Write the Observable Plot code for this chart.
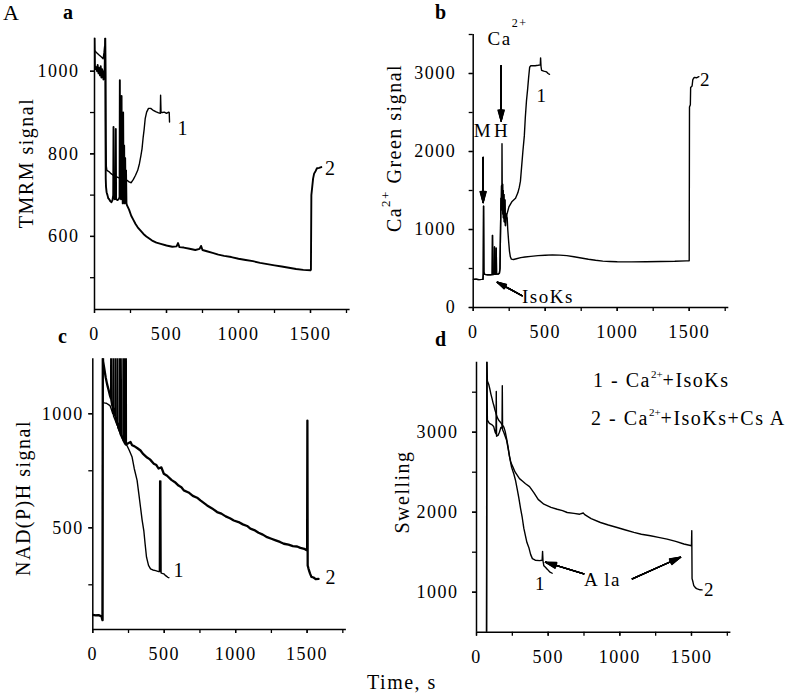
<!DOCTYPE html>
<html><head><meta charset="utf-8">
<script src="https://cdn.jsdelivr.net/npm/d3@7"></script>
<script src="https://cdn.jsdelivr.net/npm/@observablehq/plot@0.6"></script>
<style>
html,body{margin:0;padding:0;background:#fff;}
#wrap{position:relative;width:800px;height:699px;overflow:hidden;font-family:"Liberation Serif",serif;}
#wrap svg{position:absolute;}
</style></head><body><div id="wrap"></div>
<script>
// ---------- DATA (time s, signal) ----------
const xTicksAll = [0,250,500,750,1000,1250,1500,1750];
const xTicksLabeled = [0,500,1000,1500];

// Panel a: TMRM signal
const tmrm1 = [[0,1050],[15,1045],[30,1040],[50,1034],[60,1030],[66,1045],[70,1060],[74,1040],[76,1080],[78,1000],[80,828],[82,770],[86,760],[100,757],[115,752],[130,748],[150,745],[170,742],[185,745],[188,900],[191,745],[200,740],[210,738],[225,736],[240,732],[255,730],[270,738],[285,748],[300,760],[312,776],[322,795],[330,812],[338,840],[345,860],[352,885],[362,901],[375,910],[390,910],[405,906],[425,902],[445,899],[457,898],[459,942],[462,900],[470,900],[485,901],[500,898],[515,901],[519,900],[521,877]];
const tmrm2 = [[0,1080],[3,1012],[7,1005],[12,1010],[18,1000],[22,1015],[28,995],[32,1008],[38,990],[43,1012],[48,985],[53,1005],[58,995],[62,980],[66,1000],[70,995],[74,1080],[76,880],[78,740],[80,720],[84,707],[90,700],[96,692],[102,690],[110,685],[118,683],[125,688],[130,700],[132,865],[134,695],[140,690],[146,700],[148,860],[150,690],[160,688],[168,690],[174,695],[176,978],[178,700],[182,860],[184,690],[188,940],[190,700],[193,850],[196,680],[199,900],[202,690],[206,820],[209,680],[213,790],[216,690],[219,760],[222,680],[226,675],[240,665],[255,650],[270,640],[285,630],[300,622],[320,614],[340,606],[360,600],[380,595],[400,590],[430,585],[460,582],[500,578],[540,575],[570,576],[580,584],[590,574],[620,573],[660,570],[700,567],[730,570],[740,577],[750,567],[780,564],[820,560],[860,556],[900,553],[950,550],[1000,546],[1050,543],[1100,540],[1150,536],[1200,533],[1250,530],[1300,527],[1350,524],[1400,521],[1450,519],[1500,518],[1503,520],[1506,700],[1512,720],[1518,740],[1525,752],[1535,758],[1545,765],[1560,766],[1575,768]];

// Panel b: Ca2+ Green signal
const caGreen1 = [[0,360],[20,362],[40,358],[60,360],[68,362],[70,440],[72,1300],[74,450],[80,425],[100,420],[120,420],[132,422],[134,925],[136,422],[146,425],[148,775],[150,425],[158,425],[160,760],[162,428],[175,430],[182,440],[186,500],[190,1020],[193,1400],[195,1250],[197,1560],[199,1300],[200,2100],[202,1350],[204,1580],[206,1200],[208,1500],[210,1150],[213,1450],[216,1100],[220,1380],[224,1050],[228,1200],[232,1180],[248,1290],[270,1360],[294,1400],[310,1470],[320,1540],[328,1620],[336,1800],[345,2000],[355,2200],[362,2440],[370,2650],[378,2800],[385,2950],[392,3080],[400,3100],[430,3100],[450,3105],[466,3110],[468,3200],[471,3090],[475,3040],[490,3030],[510,3020],[520,3000],[530,2990]];
const caGreen2 = [[0,360],[20,362],[40,358],[60,360],[68,362],[70,440],[72,1300],[74,450],[80,425],[100,420],[120,420],[132,422],[134,925],[136,422],[146,425],[148,775],[150,425],[158,425],[160,760],[162,428],[175,430],[182,440],[186,500],[190,1020],[193,1400],[195,1250],[197,1560],[199,1300],[202,1350],[204,1580],[206,1200],[208,1500],[210,1150],[213,1450],[216,1100],[220,1380],[224,1050],[228,1200],[232,1180],[236,1150],[240,1000],[246,850],[252,720],[258,650],[265,620],[280,615],[300,625],[330,640],[360,648],[400,655],[450,665],[500,670],[550,675],[600,672],[650,665],[700,650],[750,635],[800,618],[850,605],[900,595],[950,590],[1000,586],[1100,585],[1200,586],[1300,590],[1400,592],[1480,598],[1500,600],[1502,2570],[1508,2600],[1510,2820],[1520,2840],[1525,2920],[1535,2950],[1550,2945],[1567,2960]];

// Panel c: NAD(P)H signal
const nadph1 = [[0,118],[20,116],[40,117],[60,112],[68,95],[70,1300],[72,1050],[80,1048],[95,1046],[110,1040],[120,1036],[130,1020],[140,1000],[144,1300],[145,990],[155,975],[170,950],[174,1300],[175,940],[185,925],[200,905],[204,1300],[205,895],[215,880],[221,875],[228,868],[240,860],[255,840],[275,810],[290,760],[310,708],[322,650],[334,590],[345,535],[357,488],[366,430],[376,371],[390,335],[404,320],[420,315],[440,312],[460,308],[466,308],[468,705],[470,308],[476,705],[478,302],[485,300],[497,298],[510,290],[525,283],[532,281]];
const nadph2 = [[0,118],[20,116],[40,117],[60,112],[68,95],[70,1300],[72,1230],[80,1200],[90,1160],[100,1130],[110,1105],[120,1080],[128,1065],[129,1300],[130,1060],[135,1040],[150,1005],[158,990],[159,1300],[160,988],[165,970],[180,940],[188,925],[189,1300],[190,922],[195,910],[210,890],[218,880],[219,1300],[220,878],[225,870],[230,866],[231,1300],[232,865],[245,870],[264,876],[275,862],[290,858],[310,850],[334,839],[350,825],[380,808],[400,800],[427,781],[445,775],[460,760],[480,765],[497,737],[520,728],[550,710],[575,700],[600,685],[620,678],[637,664],[670,655],[700,640],[730,632],[753,620],[800,598],[835,585],[870,569],[900,562],[930,550],[960,542],[987,532],[1020,525],[1050,515],[1080,508],[1103,496],[1130,490],[1160,478],[1190,470],[1220,459],[1250,452],[1280,445],[1310,438],[1337,430],[1370,426],[1400,420],[1430,418],[1453,412],[1480,408],[1500,400],[1502,970],[1504,335],[1510,320],[1520,300],[1530,285],[1545,282],[1560,275],[1580,276]];

// Panel d: Swelling
const swell1 = [[0,300],[70,300],[72,3880],[76,3150],[90,3110],[100,3100],[110,3090],[120,3070],[130,3000],[136,2980],[138,3510],[140,2950],[150,2960],[160,3000],[170,3060],[178,3050],[180,3580],[182,3030],[190,3000],[200,2950],[210,2900],[220,2800],[232,2680],[245,2560],[260,2480],[272,2400],[285,2280],[295,2183],[307,2050],[319,1934],[330,1800],[342,1700],[352,1620],[365,1560],[378,1470],[390,1420],[410,1400],[440,1395],[458,1400],[461,1510],[464,1390],[470,1330],[481,1311],[495,1285],[510,1255],[528,1237]];
const swell2 = [[0,300],[70,300],[73,3880],[76,3640],[85,3600],[93,3540],[100,3480],[109,3417],[115,3370],[121,3334],[130,3270],[144,3188],[155,3150],[167,3125],[180,3090],[191,3063],[200,3010],[210,2920],[220,2820],[230,2700],[240,2620],[255,2560],[270,2500],[285,2460],[300,2420],[320,2390],[342,2355],[370,2320],[400,2245],[430,2160],[470,2100],[520,2060],[563,2037],[600,2020],[633,1996],[680,1985],[720,1975],[745,1990],[755,1970],[800,1920],[865,1871],[920,1840],[981,1809],[1040,1778],[1098,1747],[1150,1725],[1214,1705],[1270,1685],[1330,1664],[1390,1635],[1447,1602],[1500,1581],[1502,1770],[1504,1170],[1510,1130],[1516,1083],[1528,1055],[1540,1041],[1560,1030],[1574,1029]];

// Annotations (data coordinates, centred)
const notesA = [{x:576,y:861,t:"1"},{x:1600,y:765,t:"2"}];
const notesB = [{x:478,y:2718,t:"1"},{x:1613,y:2923,t:"2"},{x:68,y:2269,t:"M"},{x:197,y:2269,t:"H"},{x:183,y:3442,t:"Ca"},{x:519,y:141,t:"IsoKs"}];
const supB = [{x:322,y:3641,t:"2+"}];
const arrowsB = [{x1:194,y1:3100,x2:194,y2:2390},{x1:69,y1:1923,x2:69,y2:1346},{x1:340,y1:150,x2:167,y2:324}];
const notesC = [{x:565,y:313,t:"1"},{x:1629,y:280,t:"2"}];
const notesD = [{x:447,y:1109,t:"1"},{x:1626,y:1034,t:"2"},{x:879,y:1159,t:"A la"}];
const arrowsD = [{x1:749,y1:1230,x2:481,y2:1375},{x1:1087,y1:1167,x2:1424,y2:1437}];

// ---------- DRAW ----------
const wrap = document.getElementById("wrap");
const FONT = "Liberation Serif, serif";
const fmt = d => String(d);

function fan(arr) {
  return [4,10,16,22,28,32].map(a => Plot.arrow(arr, {x1:"x1",y1:"y1",x2:"x2",y2:"y2",headAngle:a,headLength:13,stroke:"black",strokeWidth:1.3}));
}

function panel(o) {
  const marks = [
    Plot.axisX({ticks: xTicksAll, tickFormat: () => "", tickSize: 4, strokeWidth: 1.3, label: null}),
    Plot.axisX({ticks: xTicksLabeled, tickFormat: fmt, tickSize: 4, tickPadding: 14, strokeWidth: 1.3, label: null}),
    Plot.axisY({ticks: o.yTicks, tickFormat: () => "", tickSize: 4, strokeWidth: 1.3, label: null}),
    Plot.axisY({ticks: o.yLabels, tickFormat: fmt, tickSize: 4, tickPadding: o.pad, strokeWidth: 1.3, label: null}),
    Plot.ruleX([0], {strokeWidth: 1.5}),
    Plot.ruleY([o.yDomain[0]], {strokeWidth: 1.5}),
    Plot.line(o.s1, {x: d => d[0], y: d => d[1], stroke: "black", strokeWidth: 1.4, clip: true}),
    Plot.line(o.s2, {x: d => d[0], y: d => d[1], stroke: "black", strokeWidth: o.w2 || 1.4, clip: true}),
    ...(o.extra || [])
  ];
  const svg = Plot.plot({
    width: o.width, height: o.height,
    marginLeft: o.ml, marginRight: o.mr, marginTop: o.mt, marginBottom: o.mb,
    x: {domain: [0, 1775], label: null},
    y: {domain: o.yDomain, label: null},
    style: {fontFamily: FONT, fontSize: "18px", letterSpacing: "1.5px", background: "none", color: "black", overflow: "visible"},
    marks
  });
  svg.style.position = "absolute";
  svg.style.left = o.left + "px";
  svg.style.top = o.top + "px";
  wrap.appendChild(svg);
}

panel({left:0, top:0, width:400, height:360, ml:94, mr:50.4, mt:37.7, mb:51,
  yDomain:[423,1080], yTicks:[500,600,700,800,900,1000], yLabels:[600,800,1000], pad:11,
  s1: tmrm1, s2: tmrm2, w2: 1.9,
  extra: [Plot.text(notesA, {x:"x", y:"y", text:"t", textAnchor:"start", fontSize:20})]});

panel({left:400, top:0, width:400, height:360, ml:72.7, mr:71.7, mt:34, mb:53,
  yDomain:[0,3500], yTicks:[0,500,1000,1500,2000,2500,3000,3500], yLabels:[0,1000,2000,3000], pad:13,
  s1: caGreen1, s2: caGreen2,
  extra: [
    Plot.text(notesB, {x:"x", y:"y", text:"t", fontSize:19}),
    Plot.text(supB, {x:"x", y:"y", text:"t", fontSize:12}),
    ...fan(arrowsB),
    Plot.link(arrowsB, {x1:"x1",y1:"y1",x2:"x2",y2:"y2",stroke:"black",strokeWidth:1.5})
  ]});

panel({left:0, top:330, width:400, height:369, ml:92.3, mr:54.1, mt:28.3, mb:70,
  yDomain:[54,1241], yTicks:[250,500,750,1000], yLabels:[500,1000], pad:5,
  s1: nadph1, s2: nadph2, w2: 2.3,
  extra: [Plot.text(notesC, {x:"x", y:"y", text:"t", textAnchor:"start", fontSize:20})]});

panel({left:400, top:330, width:400, height:369, ml:76, mr:69.6, mt:31.7, mb:67.3,
  yDomain:[500,3875], yTicks:[1000,1500,2000,2500,3000,3500], yLabels:[1000,2000,3000], pad:14,
  s1: swell1, s2: swell2,
  extra: [
    Plot.text(notesD, {x:"x", y:"y", text:"t", fontSize:19}),
    ...fan(arrowsD)
  ]});

// ---------- overlay texts ----------
const ov = d3.select(wrap).append("svg").attr("width", 800).attr("height", 699)
  .style("left", "0px").style("top", "0px")
  .attr("font-family", FONT).attr("fill", "black");

const letters = [
  {t:"A", x:3, y:20, w:"normal", s:22},
  {t:"a", x:63, y:19, w:"bold", s:20},
  {t:"b", x:435, y:19, w:"bold", s:20},
  {t:"c", x:58, y:343, w:"bold", s:20},
  {t:"d", x:435, y:346, w:"bold", s:20}
];
ov.selectAll("text.pl").data(letters).join("text").attr("class","pl")
  .attr("x", d => d.x).attr("y", d => d.y).attr("font-size", d => d.s).attr("font-weight", d => d.w).text(d => d.t);

function vlabel(x, y, parts) {
  const t = ov.append("text").attr("transform", `translate(${x},${y}) rotate(-90)`)
    .attr("text-anchor", "middle").attr("font-size", 20).attr("letter-spacing", "1.5px");
  parts.forEach(p => {
    const ts = t.append("tspan").text(p.t);
    if (p.sup) ts.attr("font-size", 13).attr("dy", -11);
    if (p.after) ts.attr("dy", 11);
  });
}
vlabel(33, 163, [{t:"TMRM signal"}]);
vlabel(401, 148, [{t:"Ca"},{t:"2+", sup:true},{t:"  Green signal", after:true}]);
vlabel(30, 498, [{t:"NAD(P)H signal"}]);
vlabel(409, 492, [{t:"Swelling"}]);

ov.append("text").attr("x", 402).attr("y", 689).attr("text-anchor", "middle")
  .attr("font-size", 20).attr("letter-spacing", "1.5px").text("Time, s");

function legendLine(x, y, pre, post) {
  const t = ov.append("text").attr("x", x).attr("y", y).attr("font-size", 20).attr("letter-spacing", "1.5px");
  t.append("tspan").text(pre);
  t.append("tspan").text("2+").attr("font-size", 11).attr("dy", -9).attr("letter-spacing", "0px");
  t.append("tspan").text(post).attr("dy", 9);
}
legendLine(593, 387, "1 - Ca", "+IsoKs");
legendLine(591, 425, "2 - Ca", "+IsoKs+Cs A");
</script>
</body></html>
